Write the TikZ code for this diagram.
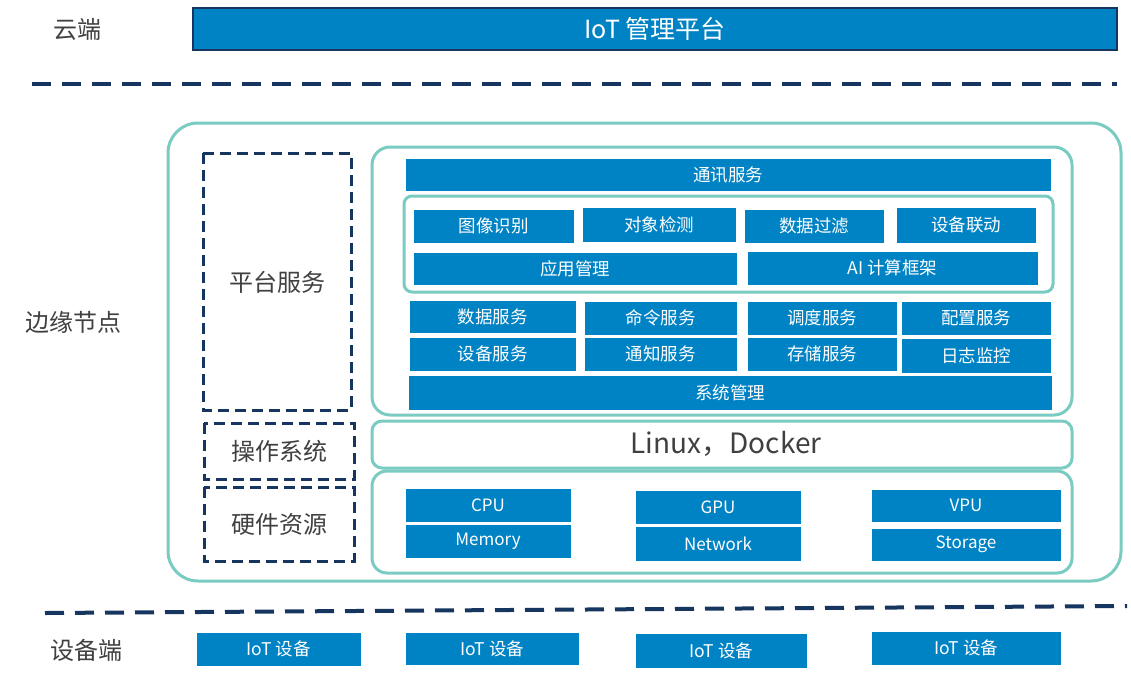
\documentclass[tikz,border=0pt]{standalone}
\usepackage{fontspec}
\setmainfont{Noto Sans CJK SC}
\begin{document}
\begin{tikzpicture}[x=1pt,y=-1pt,
  bx/.style={fill=boxblue,draw=white,line width=0.8pt,inner sep=0pt,outer sep=0pt,anchor=north west,text=white,font=\fontsize{17.5}{20}\selectfont},
  hwf/.style={font=\fontsize{17}{20}\selectfont},
  lbl/.style={text=labelgray,inner sep=0pt,font=\fontsize{24}{28}\selectfont},
  sepline/.style={draw=navy,line width=4pt,dash pattern=on 19pt off 11pt},
  dbox/.style={draw=navy,line width=3pt,dash pattern=on 11pt off 6pt},
  tealbox/.style={draw=tealc,line width=3pt}]
\definecolor{boxblue}{RGB}{0,131,196}
\definecolor{navy}{RGB}{22,54,96}
\definecolor{tealc}{RGB}{122,203,193}
\definecolor{labelgray}{RGB}{64,64,64}
\useasboundingbox[fill=white] (0,0) rectangle (1131,680);
% cloud
\node[lbl] (cloud) at (77,29) {云端};
\node[bx,draw=navy,line width=2pt,minimum width=924pt,minimum height=42pt,font=\fontsize{25}{28}\selectfont] (iot) at (193,8) {IoT 管理平台};
\coordinate (d1a) at (32,84); \coordinate (d1b) at (1117,84);
\draw[sepline] (d1a) -- (d1b);
% edge node
\node[lbl] (edge) at (73,322) {边缘节点};
\draw[tealbox,rounded corners=30pt] (168,123) rectangle (1121,581);
\draw[dbox] (203,153) rectangle (351,410);
\node[lbl] (ps) at (277,282) {平台服务};
\draw[dbox] (204,423) rectangle (354,479);
\node[lbl] (os) at (279,451) {操作系统};
\draw[dbox] (204,487) rectangle (354,561);
\node[lbl] (hw) at (279,524) {硬件资源};
% platform
\draw[tealbox,rounded corners=18pt] (372,147) rectangle (1072,415);
\node[bx,minimum width=646pt,minimum height=33pt] (comm) at (405,158) {通讯服务};
\draw[tealbox,rounded corners=8pt] (404,196) rectangle (1053,292);
\node[bx,minimum width=161pt,minimum height=34pt] (img) at (413,209) {图像识别};
\node[bx,minimum width=154pt,minimum height=35pt] (obj) at (582,207) {对象检测};
\node[bx,minimum width=140pt,minimum height=34pt] (filt) at (744,209) {数据过滤};
\node[bx,minimum width=140pt,minimum height=36pt] (link) at (896,207) {设备联动};
\node[bx,minimum width=324pt,minimum height=33pt] (app) at (413,252) {应用管理};
\node[bx,minimum width=291pt,minimum height=34pt] (ai) at (747,251) {AI 计算框架};
\node[bx,minimum width=167pt,minimum height=33pt] (data) at (409,300) {数据服务};
\node[bx,minimum width=153pt,minimum height=34pt] (cmd) at (584,301) {命令服务};
\node[bx,minimum width=150pt,minimum height=34pt] (sch) at (747,301) {调度服务};
\node[bx,minimum width=150pt,minimum height=34pt] (cfg) at (901,301) {配置服务};
\node[bx,minimum width=167pt,minimum height=34pt] (dev) at (409,337) {设备服务};
\node[bx,minimum width=153pt,minimum height=34pt] (ntf) at (584,337) {通知服务};
\node[bx,minimum width=150pt,minimum height=34pt] (sto) at (747,337) {存储服务};
\node[bx,minimum width=150pt,minimum height=35pt] (log) at (901,338) {日志监控};
\node[bx,minimum width=644pt,minimum height=35pt] (sys) at (408,375) {系统管理};
% OS
\draw[tealbox,rounded corners=10pt] (372,421) rectangle (1072,468);
\node[lbl,font=\fontsize{28}{32}\selectfont] (linux) at (726,444) {Linux，Docker};
% hardware
\draw[tealbox,rounded corners=15pt] (372,471) rectangle (1072,573);
\node[bx,hwf,minimum width=166pt,minimum height=34pt] (cpu) at (405,488) {CPU};
\node[bx,hwf,minimum width=166pt,minimum height=34pt] (mem) at (405,524) {Memory};
\node[bx,hwf,minimum width=166pt,minimum height=34pt] (gpu) at (635,490) {GPU};
\node[bx,hwf,minimum width=166pt,minimum height=35pt] (net) at (635,526) {Network};
\node[bx,hwf,minimum width=190pt,minimum height=33pt] (vpu) at (871,489) {VPU};
\node[bx,hwf,minimum width=190pt,minimum height=33pt] (stor) at (871,528) {Storage};
% devices
\coordinate (d2a) at (45,613); \coordinate (d2b) at (1127,606);
\draw[sepline] (d2a) -- (d2b);
\node[lbl] (devend) at (86,650) {设备端};
\node[bx,minimum width=165pt,minimum height=34pt] (iot1) at (196,632) {IoT 设备};
\node[bx,minimum width=174pt,minimum height=33pt] (iot2) at (405,632) {IoT 设备};
\node[bx,minimum width=172pt,minimum height=35pt] (iot3) at (635,633) {IoT 设备};
\node[bx,minimum width=190pt,minimum height=34pt] (iot4) at (871,631) {IoT 设备};
\end{tikzpicture}
\end{document}
